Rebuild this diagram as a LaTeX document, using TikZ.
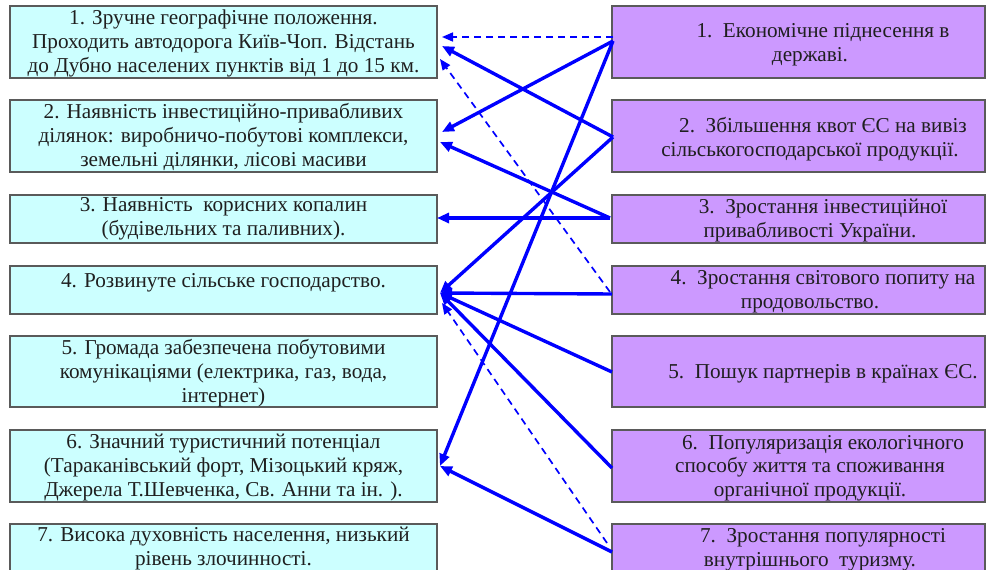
\documentclass[tikz,border=0pt]{standalone}
\usepackage{fontspec}
\setmainfont{Liberation Serif}
\usetikzlibrary{arrows.meta,calc}

\definecolor{leftfill}{HTML}{CCFFFF}
\definecolor{rightfill}{HTML}{CC99FF}
\definecolor{boxline}{HTML}{5A5A5A}
\definecolor{linkblue}{HTML}{0000FF}

\tikzset{
  box/.style={draw=boxline, line width=1.2pt, anchor=north west,
              inner sep=0pt, outer sep=0pt, minimum height=#1},
  lbox/.style={box=#1, fill=leftfill, minimum width=427pt},
  rbox/.style={box=#1, fill=rightfill, minimum width=373pt},
  label/.style={align=center, inner sep=0pt, text=black!88,
                font=\rmfamily\fontsize{21.2}{23.7}\selectfont},
  link/.style={draw=linkblue, line width=3.4pt,
               -{Triangle[length=12pt,width=10pt]}},
  dlink/.style={draw=linkblue, line width=1.7pt, dash pattern=on 7pt off 5pt,
                -{Triangle[length=11pt,width=9pt]}},
}

\newcommand{\lead}{\hspace*{26pt}}

\begin{document}
\begin{tikzpicture}[x=1pt,y=-1pt]
\useasboundingbox (0,0) rectangle (986,570);
\clip (0,0) rectangle (986,570);

% left column: local advantages
\node[lbox=72pt] (L1) at (10,6)   {};
\node[lbox=72pt] (L2) at (10,100) {};
\node[lbox=48pt] (L3) at (10,195) {};
\node[lbox=48pt] (L4) at (10,266) {};
\node[lbox=71pt] (L5) at (10,336) {};
\node[lbox=72pt] (L6) at (10,430) {};
\node[lbox=72pt] (L7) at (10,524) {};

\node[label] (L1t) at (223.5,43.5) {1. Зручне географічне положення.\\Проходить автодорога Київ-Чоп. Відстань\\до Дубно населених пунктів від 1 до 15 км.};
\node[label] (L2t) at (223.5,137) {2. Наявність інвестиційно-привабливих\\ділянок: виробничо-побутові комплекси,\\земельні ділянки, лісові масиви};
\node[label] (L3t) at (223.5,219) {3. Наявність\ \ корисних копалин\\(будівельних та паливних).};
\node[label] (L4t) at (223.5,283) {4. Розвинуте сільське господарство.};
\node[label] (L5t) at (223.5,373) {5. Громада забезпечена побутовими\\комунікаціями (електрика, газ, вода,\\інтернет)};
\node[label] (L6t) at (223.5,467.5) {6. Значний туристичний потенціал\\(Тараканівський форт, Мізоцький кряж,\\Джерела Т.Шевченка, Св. Анни та ін. ).};
\node[label] (L7t) at (223.5,548.5) {7. Висока духовність населення, низький\\рівень злочинності.};

% right column: external opportunities
\node[rbox=72pt] (R1) at (612,6)   {};
\node[rbox=72pt] (R2) at (612,100) {};
\node[rbox=48pt] (R3) at (612,195) {};
\node[rbox=48pt] (R4) at (612,266) {};
\node[rbox=71pt] (R5) at (612,336) {};
\node[rbox=72pt] (R6) at (612,430) {};
\node[rbox=72pt] (R7) at (612,524) {};

\node[label] (R1t) at (810,44.5) {\lead 1.\ \ Економічне піднесення в\\державі.};
\node[label] (R2t) at (810,139.5) {\lead 2.\ \ Збільшення квот ЄС на вивіз\\сільськогосподарської продукції.};
\node[label] (R3t) at (810,220.5) {\lead 3.\ \ Зростання інвестиційної\\привабливості України.};
\node[label] (R4t) at (810,291.5) {\lead 4.\ \ Зростання світового попиту на\\продовольство.};
\node[label] (R5t) at (810,374) {\lead 5.\ \ Пошук партнерів в країнах ЄС.};
\node[label] (R6t) at (810,468) {\lead 6.\ \ Популяризація екологічного\\способу життя та споживання\\органічної продукції.};
\node[label] (R7t) at (810,549.5) {\lead 7.\ \ Зростання популярності\\внутрішнього\ \ туризму.};

% links from opportunities to advantages
\draw[dlink] ($(R1.north west)+(1,31)$) -- ($(L1.north east)+(5,31)$);
\draw[link]  ($(R1.north west)+(1,35)$) -- ($(L2.north east)+(5,32)$);
\draw[link]  ($(R1.north west)+(1,35)$) -- ($(L6.north east)+(3,36)$);
\draw[link]  ($(R2.north west)+(1,37)$) -- ($(L1.north east)+(5,40)$);
\draw[link]  ($(R2.north west)+(1,37)$) -- ($(L4.north east)+(3,27)$);
\draw[link]  ($(R3.north west)+(-2,23)$) -- ($(L3.north east)+(0,23)$);
\draw[link]  ($(R3.north west)+(-2,23)$) -- ($(L2.north east)+(3,42)$);
\draw[link]  ($(R4.north west)+(0,28)$) -- ($(L4.north east)+(3,27)$);
\draw[dlink] ($(R4.north west)+(-2,26)$) -- ($(L1.north east)+(3,53)$);
\draw[link]  ($(R5.north west)+(0,36)$) -- ($(L4.north east)+(3,27)$);
\draw[link]  ($(R6.north west)+(0,38)$) -- ($(L4.north east)+(3,27)$);
\draw[link]  ($(R7.north west)+(0,28)$) -- ($(L6.north east)+(3,36)$);
\draw[dlink] ($(R7.north west)+(-5,19)$) -- ($(L4.north east)+(5,37)$);
\end{tikzpicture}
\end{document}
